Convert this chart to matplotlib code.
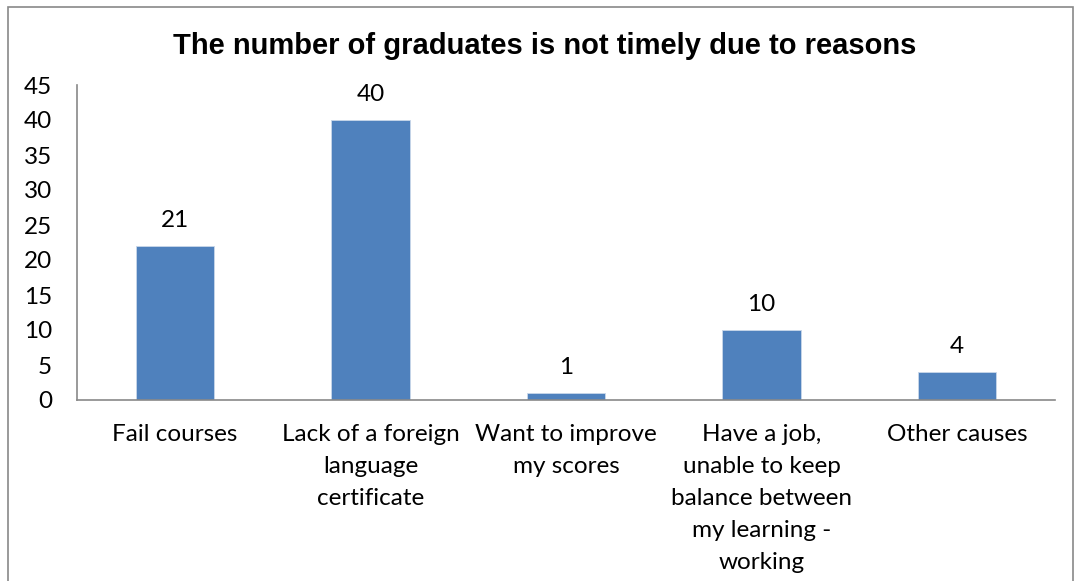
import matplotlib.pyplot as plt
from matplotlib.patches import Rectangle

# Daten
kategorien = [
    "Fail courses",
    "Lack of a foreign\nlanguage\ncertificate",
    "Want to improve\nmy scores",
    "Have a job,\nunable to keep\nbalance between\nmy learning -\nworking",
    "Other causes",
]
werte = [22, 40, 1, 10, 4]
beschriftungen = ["21", "40", "1", "10", "4"]
y_ticks = [0, 5, 10, 15, 20, 25, 30, 35, 40, 45]

plt.rcParams['font.family'] = ['Lato', 'DejaVu Sans']

fig = plt.figure(figsize=(10.76, 5.81), dpi=100)
ax = fig.add_axes([77 / 1076, 1 - 400 / 581, (1055 - 77) / 1076, (400 - 85) / 581])

x = range(len(kategorien))
balken = ax.bar(x, werte, width=0.4, color='#4f81bd', edgecolor='#c9d7ea', linewidth=0.6)

for b, txt in zip(balken, beschriftungen):
    ax.annotate(txt, (b.get_x() + b.get_width() / 2, b.get_height()),
                xytext=(0, 11), textcoords='offset points',
                ha='center', va='bottom', fontsize=17.5)

ax.set_xlim(-0.5, len(kategorien) - 0.5)
ax.set_ylim(0, 45)
ax.set_yticks(y_ticks)
ax.set_xticks(list(x))
ax.set_xticklabels(kategorien, fontsize=17.5, linespacing=1.65)
ax.tick_params(axis='y', labelsize=17.5, length=0, pad=18)
ax.tick_params(axis='x', length=0, pad=17)

for s in ['top', 'right']:
    ax.spines[s].set_visible(False)
for s in ['left', 'bottom']:
    ax.spines[s].set_color('#898989')
    ax.spines[s].set_linewidth(1.2)

# Titel
fig.text(545 / 1076, 1 - 46 / 581, 'The number of graduates is not timely due to reasons',
         ha='center', va='center', fontsize=21, fontweight='bold',
         family=['Liberation Sans', 'DejaVu Sans'])

# Rahmen um das Diagramm
fig.patches.append(Rectangle((8 / 1076, -0.1), (1073 - 8) / 1076, 1.1 - 7 / 581,
                             transform=fig.transFigure, fill=False,
                             edgecolor='#898989', linewidth=1.2))

fig.savefig('out.png', dpi=100)
